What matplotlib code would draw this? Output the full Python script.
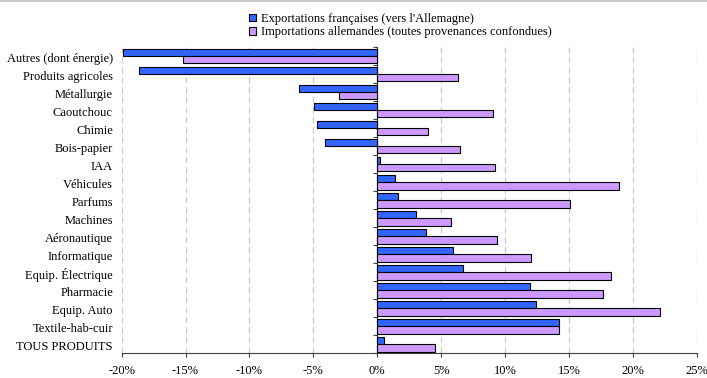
import matplotlib.pyplot as plt
import matplotlib.transforms as mtransforms
from matplotlib.lines import Line2D
import numpy as np

plt.rcParams['font.family'] = ['Liberation Serif', 'DejaVu Serif']

# secteurs, du haut vers le bas
secteurs = ["Autres (dont énergie)", "Produits agricoles", "Métallurgie", "Caoutchouc",
            "Chimie", "Bois-papier", "IAA", "Véhicules", "Parfums", "Machines",
            "Aéronautique", "Informatique", "Equip. Électrique", "Pharmacie",
            "Equip. Auto", "Textile-hab-cuir", "TOUS PRODUITS"]

# en %
export_fr = [-19.9, -18.6, -6.1, -4.95, -4.75, -4.1, 0.25, 1.4, 1.65, 3.0,
             3.85, 5.95, 6.7, 11.95, 12.45, 14.25, 0.5]
import_de = [-15.2, 6.3, -3.0, 9.05, 4.0, 6.45, 9.2, 18.9, 15.05, 5.75,
             9.4, 12.0, 18.3, 17.65, 22.1, 14.25, 4.5]

xticks = np.arange(-20, 26, 5)
xlabels = ["%d%%" % v for v in xticks]

fig = plt.figure(figsize=(7.07, 3.78), dpi=100)
ax = fig.add_axes([0.172, 0.0653, 0.8135, 0.8096])

y = np.arange(len(secteurs))
h = 0.4
ax.barh(y - h / 2, export_fr, height=h, color='#3366FF', edgecolor='black',
        linewidth=0.8, label="Exportations françaises (vers l'Allemagne)", zorder=3)
ax.barh(y + h / 2, import_de, height=h, color='#CC99FF', edgecolor='black',
        linewidth=0.8, label="Importations allemandes (toutes provenances confondues)", zorder=3)

ax.set_xlim(-20, 25)
ax.set_ylim(len(secteurs) - 0.5, -0.5)

# grille verticale en pointillés
for v in xticks:
    ax.axvline(v, color='#c8c8c8', linestyle=(0, (5, 3)), linewidth=0.9, zorder=1)

ax.set_xticks(xticks)
ax.set_xticklabels(xlabels, fontsize=9)
ax.tick_params(axis='x', direction='out', length=3, pad=5.5, color='#404040')

# axe vertical sur le zéro, graduations entre les secteurs
ax.spines['left'].set_position(('data', 0))
ax.spines['left'].set_color('#303030')
ax.spines['bottom'].set_color('#404040')
ax.spines['top'].set_visible(False)
ax.spines['right'].set_visible(False)
ax.set_yticks(np.arange(-0.5, len(secteurs), 1))
ax.tick_params(axis='y', direction='out', length=3, labelleft=False, color='#404040')

trans = mtransforms.blended_transform_factory(ax.transAxes, ax.transData)
trans = mtransforms.offset_copy(trans, fig=fig, y=-2.5, units='dots')
for i, s in enumerate(secteurs):
    ax.text(-0.015, i, s, transform=trans, ha='right', va='center', fontsize=9)

leg = fig.legend(loc='upper center', bbox_to_anchor=(0.566, 0.995), ncol=1,
                 frameon=False, fontsize=9, handlelength=0.55, handleheight=0.55,
                 handletextpad=0.4, labelspacing=0.1)

# filet gris en haut
fig.add_artist(Line2D([0, 1], [0.998, 0.998], color='#c8c8c8', linewidth=1.5))

fig.savefig('out.png', dpi=100)
